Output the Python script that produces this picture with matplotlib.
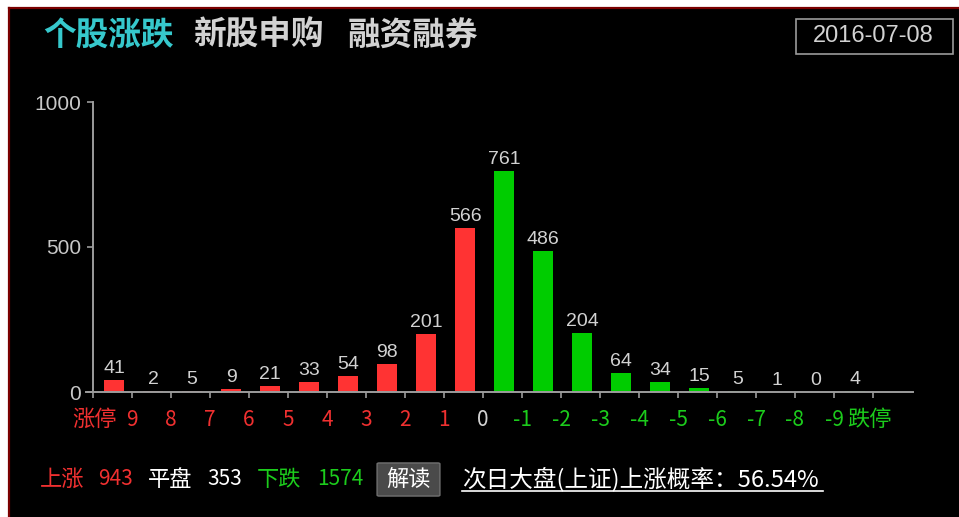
import matplotlib
matplotlib.use('Agg')
import matplotlib.pyplot as plt
from matplotlib.patches import Rectangle, FancyBboxPatch
from matplotlib.lines import Line2D

plt.rcParams['font.family'] = ['Noto Sans CJK SC', 'DejaVu Sans']

W, H = 959, 517

# counts per change bucket: limit-up, 9..1, 0..-9
counts = [41, 2, 5, 9, 21, 33, 54, 98, 201, 566, 761, 486, 204, 64, 34, 15, 5, 1, 0, 4]
tick_labels = ['', '9', '8', '7', '6', '5', '4', '3', '2', '1', '0',
               '-1', '-2', '-3', '-4', '-5', '-6', '-7', '-8', '-9', '']
tabs = ['个股涨跌', '新股申购', '融资融券']
date_str = '2016-07-08'
summary_names = ['上涨', '平盘', '下跌']
summary_counts = ['943', '353', '1574']
prob_text = '次日大盘(上证)上涨概率：56.54%'

RED = '#f03030'
GREEN = '#1ccc1c'
GREY = '#d2d2d2'
AXIS = '#9c9c9c'
CYAN = '#36c8cc'

bar_colors = ['#ff3333'] * 10 + ['#00cc00'] * 10
tick_colors = [GREY] + [RED] * 9 + [GREY] + [GREEN] * 9 + [GREY]


def fx(x):
    return x / W


def fy(y):
    return 1 - y / H


fig = plt.figure(figsize=(W / 100, H / 100), dpi=100, facecolor='white')

# black panel with dark red frame on the left and top
fig.patches.append(Rectangle((fx(8), 0), 1 - fx(8), fy(7), transform=fig.transFigure,
                             facecolor='black', edgecolor='none', zorder=-5))
fig.lines.append(Line2D([fx(9), fx(9)], [0, fy(8)], transform=fig.transFigure,
                        color='#7a0000', lw=1.6))
fig.lines.append(Line2D([fx(9), 1], [fy(8), fy(8)], transform=fig.transFigure,
                        color='#7a0000', lw=1.6))

ax = fig.add_axes([fx(86), fy(392), (913 - 86) / W, (392 - 102) / H])
ax.set_facecolor('none')

xs = [i + 0.54 for i in range(len(counts))]
ax.bar(xs, counts, width=0.5, color=bar_colors, zorder=2)
for x, v in zip(xs, counts):
    ax.annotate(str(v), (x, v), xytext=(0, 5), textcoords='offset points',
                ha='center', va='baseline', fontsize=14, color=GREY,
                family='Liberation Sans')

ax.set_xlim(-7 / 39, 820 / 39)
ax.set_ylim(0, 1000)

for side in ['top', 'right']:
    ax.spines[side].set_visible(False)
ax.spines['left'].set_position(('data', 0))
ax.spines['left'].set_color(AXIS)
ax.spines['bottom'].set_color(AXIS)
ax.spines['left'].set_linewidth(1.4)
ax.spines['bottom'].set_linewidth(1.4)

ax.set_yticks([0, 500, 1000])
ax.tick_params(axis='y', colors=AXIS, length=4.5, width=1.2, pad=4, labelsize=15,
               labelcolor='#c8c8c8')
for lab in ax.get_yticklabels():
    lab.set_family('Liberation Sans')

ax.set_xticks(range(21))
ax.set_xticklabels(tick_labels)
ax.tick_params(axis='x', colors=AXIS, length=4.5, width=1.2, pad=8, labelsize=15)
for lab, c in zip(ax.get_xticklabels(), tick_colors):
    lab.set_color(c)

ax.text((117 - 93) / 39, -0.095, '涨停', transform=ax.get_xaxis_transform(),
        ha='right', va='center', fontsize=16, color=RED)
ax.text((847 - 93) / 39, -0.095, '跌停', transform=ax.get_xaxis_transform(),
        ha='left', va='center', fontsize=16, color=GREEN)

# tab titles
tab_x = [43, 193, 348]
tab_colors = [CYAN, GREY, GREY]
for t, x, c in zip(tabs, tab_x, tab_colors):
    fig.text(fx(x), fy(35), t, color=c, fontsize=23.5, fontweight='bold', va='center')

# date box
fig.patches.append(Rectangle((fx(796), fy(54)), fx(953) - fx(796), fy(19) - fy(54),
                             transform=fig.transFigure, facecolor='none',
                             edgecolor='#9a9a9a', lw=1.2))
fig.text(fx(873), fy(36), date_str, color=GREY, fontsize=17, ha='center', va='center',
         family='Liberation Sans')

# summary row
sum_colors = [RED, 'white', GREEN]
name_x = [40, 148, 257]
num_x = [98, 207, 317]
for n, v, c, nx, vx in zip(summary_names, summary_counts, sum_colors, name_x, num_x):
    fig.text(fx(nx), fy(479), n, color=c, fontsize=16, va='center')
    fig.text(fx(vx), fy(479), v, color=c, fontsize=15, va='center')

fig.patches.append(FancyBboxPatch((fx(379), fy(495)), fx(438) - fx(379), fy(464) - fy(495),
                                  boxstyle='round,pad=0.002', transform=fig.transFigure,
                                  facecolor='#4a4a4a', edgecolor='#707070', lw=1))
fig.text(fx(408.5), fy(479), '解读', color='white', fontsize=16, ha='center', va='center')

fig.text(fx(462), fy(479), prob_text, color='white', fontsize=17, va='center')
fig.lines.append(Line2D([fx(462), fx(823)], [fy(491), fy(491)], transform=fig.transFigure,
                        color='white', lw=1.2))

fig.savefig('out.png', dpi=100, facecolor='white')
